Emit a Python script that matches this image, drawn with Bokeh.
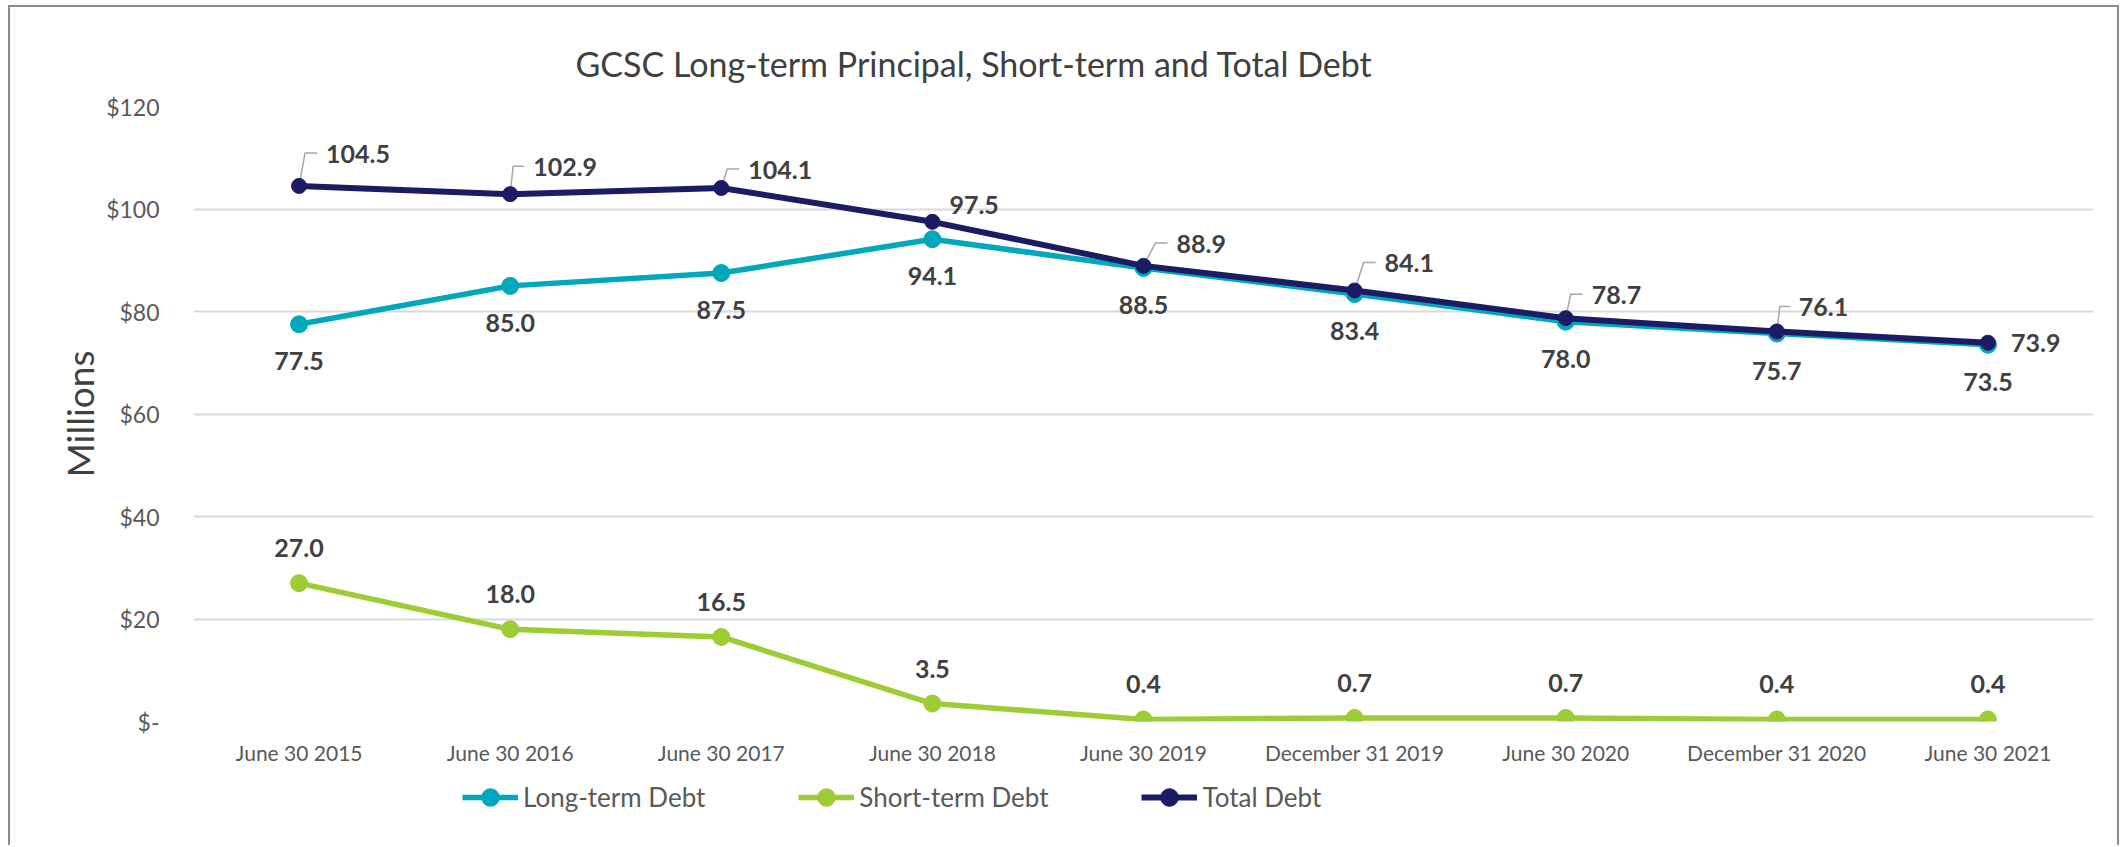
from bokeh.plotting import figure
from bokeh.layouts import column
from bokeh.models import (ColumnDataSource, FixedTicker, Legend, LegendItem, Range1d)
from bokeh.embed import file_html
from bokeh.resources import INLINE
from bokeh.core.properties import value

# ---------------- data ----------------
categories = ["June 30 2015", "June 30 2016", "June 30 2017", "June 30 2018",
              "June 30 2019", "December 31 2019", "June 30 2020",
              "December 31 2020", "June 30 2021"]
long_term = [77.5, 85.0, 87.5, 94.1, 88.5, 83.4, 78.0, 75.7, 73.5]
short_term = [27.0, 18.0, 16.5, 3.5, 0.4, 0.7, 0.7, 0.4, 0.4]
total_debt = [104.5, 102.9, 104.1, 97.5, 88.9, 84.1, 78.7, 76.1, 73.9]
y_ticks = [0, 20, 40, 60, 80, 100, 120]
y_tick_labels = ["$-", "$20", "$40", "$60", "$80", "$100", "$120"]
series_names = ["Long-term Debt", "Short-term Debt", "Total Debt"]
title_text = "GCSC Long-term Principal, Short-term and Total Debt"
y_title = "Millions"

# ---------------- style / placement ----------------
NAVY, TEAL, GREEN = "#1b1c64", "#00a7bd", "#9dcc35"
FONT = "Lato"
LABEL_COLOR = "#404040"
AXIS_COLOR = "#595959"
W = 2120
H_MAIN, H_LEG = 770, 75
ML, MR, MT, MB = 193, 27, 106, 49
FRAME_W = W - ML - MR
FRAME_H = H_MAIN - MT - MB

# label placement for Total Debt (px right of point, px above point)
total_dx = [27, 23, 27, 17, 33, 30, 26, 22, 23]
total_dy = [32, 27, 18, 17, 22, 27, 23, 24, 0]
total_leader = [True, True, True, False, True, True, True, True, False]

n = len(categories)
xs = list(range(n))
y_min, y_max = 0, 120

p = figure(width=W, height=H_MAIN, output_backend="svg", toolbar_location=None,
           x_range=Range1d(-0.5, n - 0.5), y_range=Range1d(y_min, y_max),
           min_border_left=ML, min_border_right=MR, min_border_top=MT,
           min_border_bottom=MB, title=title_text)
p.outline_line_color = None
p.background_fill_color = "white"
p.border_fill_alpha = 0

# title
p.title.align = "left"
p.title.offset = 382
p.title.standoff = 46
p.title.text_font = FONT
p.title.text_font_size = "34px"
p.title.text_font_style = "normal"
p.title.text_color = LABEL_COLOR

# axes
yt = FixedTicker(ticks=y_ticks)
p.yaxis.ticker = yt
p.ygrid.ticker = yt
p.yaxis.major_label_overrides = {t: l for t, l in zip(y_ticks, y_tick_labels)}
xt = FixedTicker(ticks=xs)
p.xaxis.ticker = xt
p.xaxis.major_label_overrides = {i: c for i, c in zip(xs, categories)}
for ax in (p.xaxis[0], p.yaxis[0]):
    ax.axis_line_color = None
    ax.major_tick_line_color = None
    ax.minor_tick_line_color = None
    ax.major_tick_out = 0
    ax.major_label_text_font = FONT
    ax.major_label_text_color = AXIS_COLOR
p.yaxis.major_label_text_font_size = "23px"
p.yaxis.major_label_standoff = 34
p.xaxis.major_label_text_font_size = "21px"
p.xaxis.major_label_standoff = 18
p.yaxis.axis_label = y_title
p.yaxis.axis_label_text_font = FONT
p.yaxis.axis_label_text_font_size = "37px"
p.yaxis.axis_label_text_font_style = "normal"
p.yaxis.axis_label_text_color = LABEL_COLOR
p.yaxis.axis_label_standoff = 1

p.xgrid.visible = False
p.ygrid.grid_line_color = "#d9d9d9"
p.ygrid.grid_line_width = 2

src = ColumnDataSource(dict(x=xs, lt=long_term, st=short_term, tot=total_debt,
                            lt_lab=[f"{v:.1f}" for v in long_term],
                            st_lab=[f"{v:.1f}" for v in short_term],
                            tot_lab=[f"{v:.1f}" for v in total_debt],
                            tdx=total_dx, tdy=[-d for d in total_dy]))

# series
key_specs = {"lt": (TEAL, 5.5, 17), "st": (GREEN, 5.5, 17), "tot": (NAVY, 6, 15)}
for key in ("lt", "st"):
    col, lw, ms = key_specs[key]
    p.line("x", key, source=src, line_color=col, line_width=lw)
    p.scatter("x", key, source=src, size=ms, fill_color=col, line_color=col)

# leader lines for total labels (computed from the data + pixel offsets)
px_x = FRAME_W / n
px_y = FRAME_H / (y_max - y_min)
lxs, lys = [], []
for i in range(n):
    if not total_leader[i]:
        continue
    dx, dy = total_dx[i], total_dy[i] + 1
    cx = max(3, dx - 21)
    ex = dx - 9
    lxs.append([xs[i], xs[i] + cx / px_x, xs[i] + ex / px_x])
    lys.append([total_debt[i], total_debt[i] + dy / px_y, total_debt[i] + dy / px_y])
p.multi_line(lxs, lys, line_color="#a6a6a6", line_width=1.5)

col, lw, ms = key_specs["tot"]
p.line("x", "tot", source=src, line_color=col, line_width=lw)
p.scatter("x", "tot", source=src, size=ms, fill_color=col, line_color=col)

# data labels
common = dict(text_font=value(FONT), text_font_size="25px", text_font_style="bold",
              text_color=LABEL_COLOR, text_baseline="middle")
p.text("x", "lt", text="lt_lab", source=src, text_align="center", y_offset=37, **common)
p.text("x", "st", text="st_lab", source=src, text_align="center", y_offset=-35, **common)
p.text("x", "tot", text="tot_lab", source=src, text_align="left",
       x_offset="tdx", y_offset="tdy", **common)

# ---------------- legend strip (frame aligned with the chart's frame) ----------------
q = figure(width=W, height=H_LEG, output_backend="svg", toolbar_location=None,
           x_axis_type=None, y_axis_type=None, min_border=0,
           x_range=Range1d(-0.5, n - 0.5), y_range=Range1d(1000, 1001))
q.outline_line_color = None
q.grid.visible = False
q.background_fill_alpha = 0
q.border_fill_alpha = 0
items = []
for name, key in zip(series_names, ("lt", "st", "tot")):
    col, lw, ms = key_specs[key]
    kl = q.line("x", key, source=src, line_color=col, line_width=lw)
    ks = q.scatter("x", key, source=src, size=ms + 1, fill_color=col, line_color=col)
    items.append(LegendItem(label=name, renderers=[kl, ks]))
legend = Legend(items=items, orientation="horizontal", location=(269, 26),
                glyph_width=56, glyph_height=44, label_height=44, spacing=93,
                label_standoff=5, padding=0, margin=0, border_line_color=None,
                background_fill_alpha=0, label_text_font=FONT,
                label_text_font_size="26px", label_text_color=AXIS_COLOR)
q.add_layout(legend)

layout = column(p, q, spacing=0)
# outer chart frame (left, top, right edges)
layout.styles = {
    "background-color": "white",
    "background-image": ("linear-gradient(#8c8c8c,#8c8c8c), "
                         "linear-gradient(#8c8c8c,#8c8c8c), "
                         "linear-gradient(#8c8c8c,#8c8c8c)"),
    "background-size": "2px 100%, 2111px 2px, 2px 100%",
    "background-position": "8px 5px, 8px 5px, 2117px 5px",
    "background-repeat": "no-repeat",
}

open("out.html", "w").write(file_html(layout, INLINE))
